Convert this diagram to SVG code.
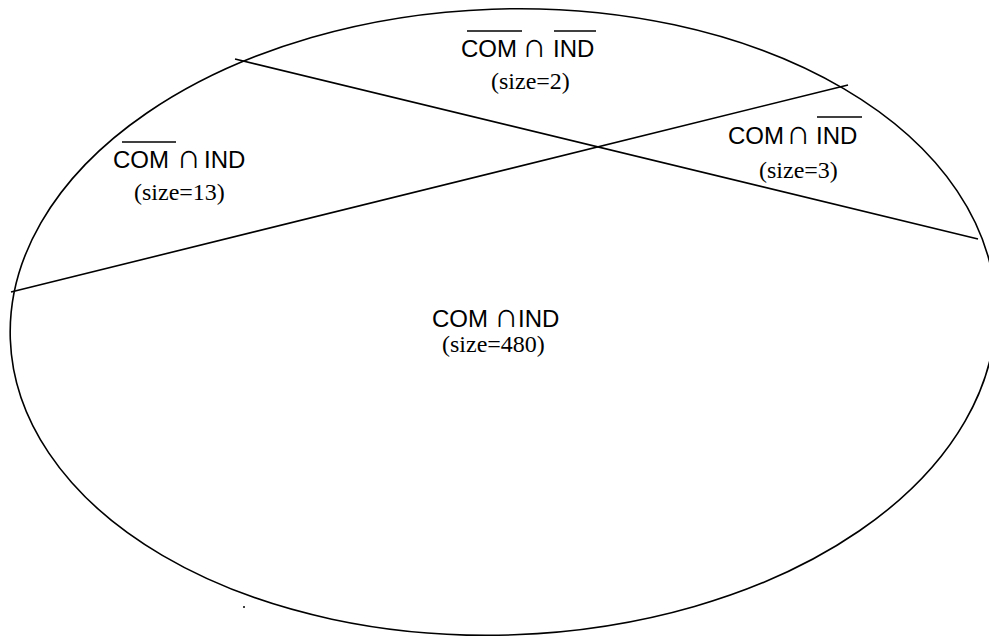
<svg xmlns="http://www.w3.org/2000/svg" width="989" height="637" viewBox="0 0 989 637">
<style>
.shape{fill:none;stroke:#000;stroke-width:1.6}
.set{font-family:"Liberation Sans",Arial,sans-serif;font-size:24px;fill:#000}
.cap{font-family:"Liberation Sans",Arial,sans-serif;font-size:34px;fill:#000;text-anchor:middle}
.size{font-family:"Liberation Serif","Times New Roman",serif;font-size:24px;fill:#000}
.bar{stroke:#000;stroke-width:1.6}
</style>
<rect width="989" height="637" fill="#fff"/>
<g id="shapes">
<ellipse class="shape" cx="503" cy="322" rx="493" ry="313" transform="rotate(-2 503 322)"/>
<line class="shape" x1="235" y1="59" x2="978" y2="239"/>
<line class="shape" x1="11" y1="292" x2="848" y2="85"/>
<circle cx="244" cy="607" r="1" fill="#000"/>
</g>
<g id="region-notcom-notind">
<text class="set" x="461" y="57">COM</text>
<text class="cap" x="534.5" y="57">∩</text>
<text class="set" x="553" y="57">IND</text>
<line class="bar" x1="467" y1="31" x2="522" y2="31"/>
<line class="bar" x1="554" y1="31" x2="596" y2="31"/>
<text class="size" x="491" y="89">(size=2)</text>
</g>
<g id="region-com-notind">
<text class="set" x="728" y="144">COM</text>
<text class="cap" x="798.5" y="144">∩</text>
<text class="set" x="816" y="144">IND</text>
<line class="bar" x1="817" y1="117" x2="862" y2="117"/>
<text class="size" x="759" y="178">(size=3)</text>
</g>
<g id="region-notcom-ind">
<text class="set" x="113" y="168">COM</text>
<text class="cap" x="189" y="168">∩</text>
<text class="set" x="204" y="168">IND</text>
<line class="bar" x1="122" y1="142" x2="176" y2="142"/>
<text class="size" x="134" y="200">(size=13)</text>
</g>
<g id="region-com-ind">
<text class="set" x="432" y="327">COM</text>
<text class="cap" x="506.5" y="327">∩</text>
<text class="set" x="518" y="327">IND</text>
<text class="size" x="442" y="352">(size=480)</text>
</g>
</svg>
